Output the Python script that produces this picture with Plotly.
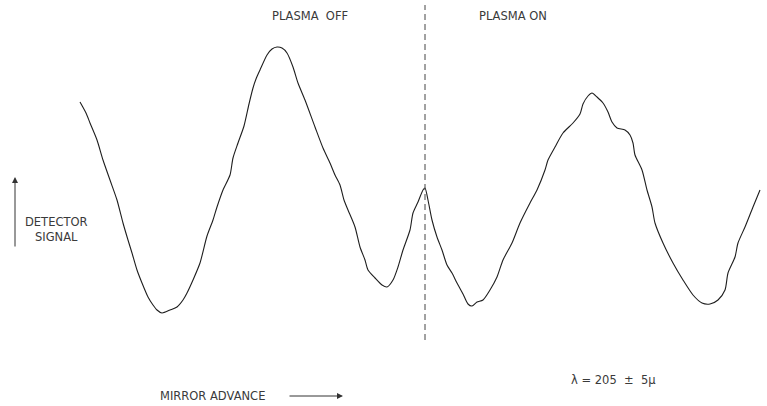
import plotly.graph_objects as go

# Interferogram trace: mirror position (arbitrary units) vs detector signal
mirror_pos = [
    80, 86, 90, 97, 103, 110, 117, 123, 128, 132, 137, 142, 148, 153, 157, 162,
    170, 177, 183, 187, 193, 200, 207, 213, 217, 223, 230, 233, 238, 244, 249,
    253, 256, 260, 267, 272, 277, 282, 287, 293, 298, 305, 315, 323, 330, 335,
    340, 344, 348, 355, 360, 365, 368, 375, 382, 387, 393, 398, 403, 410, 413,
    418, 423, 425, 428, 432, 437, 442, 447, 452, 457, 463, 468, 472, 477, 483,
    490, 497, 503, 512, 520, 530, 537, 545, 548, 555, 563, 573, 580, 583, 588,
    592, 597, 603, 608, 612, 617, 625, 630, 633, 635, 642, 647, 652, 655, 663,
    673, 683, 693, 702, 710, 718, 725, 728, 735, 738, 745, 753, 760,
]
detector_signal = [
    304, 293, 283, 266, 246, 226, 206, 183, 166, 153, 136, 123, 109, 101, 96, 93,
    96, 99, 106, 113, 126, 143, 170, 186, 199, 216, 231, 248, 263, 280, 302,
    318, 327, 336, 351, 357, 359, 358, 353, 339, 323, 306, 279, 258, 243, 231,
    221, 206, 196, 179, 159, 146, 136, 128, 121, 119, 126, 139, 156, 176, 193,
    204, 216, 218, 206, 186, 169, 156, 141, 133, 123, 112, 102, 100, 104, 106,
    116, 129, 146, 163, 183, 203, 216, 236, 246, 259, 273, 283, 292, 302, 310,
    313, 309, 303, 294, 284, 278, 276, 271, 263, 251, 236, 216, 199, 183, 163,
    143, 126, 111, 103, 102, 106, 116, 133, 149, 163, 179, 199, 216,
]
assert len(mirror_pos) == len(detector_signal)

plasma_switch = 425          # mirror position where the plasma is turned on
phase_labels = ["PLASMA  OFF", "PLASMA ON"]
phase_label_x = [310, 513]
wavelength_note = "λ = 205  ±  5μ"

W, H = 767, 406
ink = "#1e1e1e"
text_col = "#3a3a3a"
font = dict(family="DejaVu Sans", size=11.5, color=text_col)

fig = go.Figure()
fig.add_trace(go.Scatter(
    x=mirror_pos, y=detector_signal, mode="lines",
    line=dict(color=ink, width=1.1, shape="spline", smoothing=0.7),
    hoverinfo="skip", showlegend=False,
))

# boundary between the two plasma states
fig.add_shape(type="line", x0=plasma_switch, x1=plasma_switch, y0=66, y1=401,
              xref="x", yref="y",
              line=dict(color="#444444", width=1, dash="6px,4px"))

ann = []
for lab, lx in zip(phase_labels, phase_label_x):
    ann.append(dict(x=lx, y=390, text=lab, showarrow=False, font=font,
                    xanchor="center", yanchor="middle"))
ann += [
    dict(x=56, y=184, text="DETECTOR", showarrow=False, font=font),
    dict(x=56, y=169, text="SIGNAL", showarrow=False, font=font),
    dict(x=212, y=10, text="MIRROR ADVANCE", showarrow=False, font=font),
    dict(x=613, y=26, text=wavelength_note, showarrow=False, font=font),
    # axis direction arrows
    dict(x=15, y=229, ax=15, ay=158, xref="x", yref="y", axref="x", ayref="y",
         text="", showarrow=True, arrowhead=2, arrowsize=1.2, arrowwidth=1,
         arrowcolor="#333333"),
    dict(x=343, y=10, ax=288, ay=10, xref="x", yref="y", axref="x", ayref="y",
         text="", showarrow=True, arrowhead=2, arrowsize=1.2, arrowwidth=1,
         arrowcolor="#333333"),
]

fig.update_layout(
    width=W, height=H,
    margin=dict(l=0, r=0, t=0, b=0),
    paper_bgcolor="white", plot_bgcolor="white",
    xaxis=dict(range=[0, W], visible=False, fixedrange=True),
    yaxis=dict(range=[0, H], visible=False, fixedrange=True),
    annotations=ann,
)

fig.write_html("out.html")
